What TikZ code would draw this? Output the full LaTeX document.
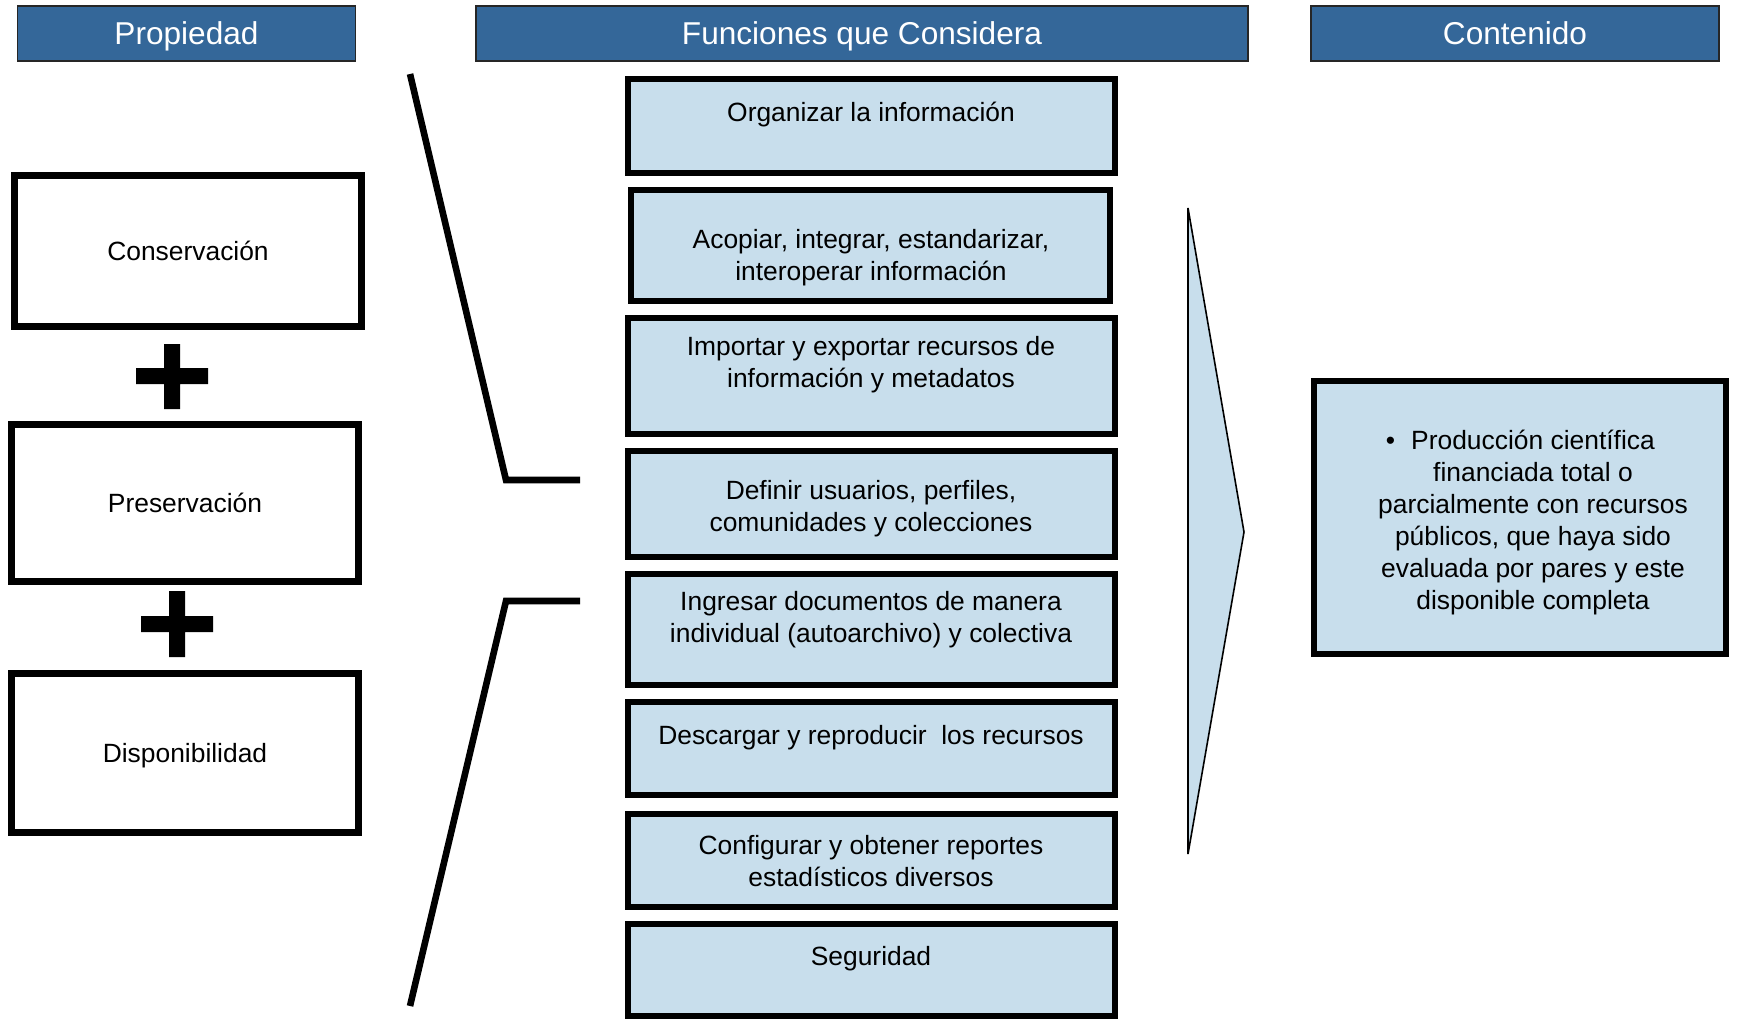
\documentclass[tikz,border=0pt]{standalone}
\usepackage{fontspec}
\setmainfont{Liberation Sans}
\usetikzlibrary{calc}

\definecolor{headblue}{RGB}{52,103,153}
\definecolor{cellblue}{RGB}{200,222,236}

\tikzset{
  header/.style={draw=black!85, line width=0.7pt, fill=headblue, text=white,
    font=\fontsize{15.8}{19}\selectfont, minimum height=27.5pt, inner sep=0pt,
    text height=11.4pt, text depth=0pt},
  propbox/.style={draw, line width=3.3pt, fill=white, minimum width=173.5pt,
    font=\fontsize{13.2}{16}\selectfont, inner sep=0pt,
    text height=9.4pt, text depth=0pt},
  funcbox/.style={draw, line width=3.3pt, fill=cellblue, minimum width=243.5pt, inner sep=0pt},
  functext/.style={align=center, font=\fontsize{13.2}{16}\selectfont, inner sep=0pt},
  contbox/.style={draw, line width=3.3pt, fill=cellblue, minimum width=206pt,
    minimum height=136.5pt, inner sep=0pt},
  bracket/.style={line width=3.3pt},
  chevron/.style={fill=cellblue, draw=black, line width=0.8pt, line join=miter},
}

\begin{document}
\begin{tikzpicture}[x=0.5pt, y=-0.5pt]
  \useasboundingbox (0,0) rectangle (1739,1023);

  \node[header, minimum width=169pt] (hprop) at (186.5,33.5) {Propiedad};
  \node[header, minimum width=386pt] (hfunc) at (862,33.5) {Funciones que Considera};
  \node[header, minimum width=204pt] (hcont) at (1515,33.5) {Contenido};

  \node[propbox, minimum height=75.5pt] (cons) at (188,251) {Conservación};
  \node[propbox, minimum height=78.5pt] (pres) at (185,503) {Preservación};
  \node[propbox, minimum height=79.5pt] (disp) at (185,753) {Disponibilidad};

  \fill (136,368) rectangle (208,384) (164,344) rectangle (180,409);
  \fill (141,616) rectangle (213,632) (169,591) rectangle (185,657);

  \draw[bracket] (410,74) -- (506,480) -- (580,480);
  \draw[bracket] (580,601) -- (506,601) -- (410,1006);

  \node[funcbox, minimum height=47pt] (f1) at (871.5,126) {};
  \node[funcbox, minimum width=239.5pt, minimum height=55.5pt] (f2) at (870.5,245.5) {};
  \node[funcbox, minimum height=58pt] (f3) at (871.5,376) {};
  \node[funcbox, minimum height=53pt] (f4) at (871.5,504) {};
  \node[funcbox, minimum height=55.5pt] (f5) at (871.5,629.5) {};
  \node[funcbox, minimum height=46.5pt] (f6) at (871.5,748.5) {};
  \node[funcbox, minimum height=46.5pt] (f7) at (871.5,860.5) {};
  \node[funcbox, minimum height=46pt] (f8) at (871.5,970) {};

  \node[functext] (t1) at (871,114.5) {Organizar la información};
  \node[functext] (t2) at (871,257.5) {Acopiar, integrar, estandarizar,\\interoperar información};
  \node[functext] (t3) at (871,364.5) {Importar y exportar recursos de\\información y metadatos};
  \node[functext] (t4) at (871,508.5) {Definir usuarios, perfiles,\\comunidades y colecciones};
  \node[functext] (t5) at (871,619.5) {Ingresar documentos de manera\\individual (autoarchivo) y colectiva};
  \node[functext] (t6) at (871,737.5) {Descargar y reproducir\ \ los recursos};
  \node[functext] (t7) at (871,861) {Configurar y obtener reportes\\estadísticos diversos};
  \node[functext] (t8) at (871,958.5) {Seguridad};

  \filldraw[chevron] (1188,208) -- (1244,532) -- (1188,854) -- cycle;

  \node[contbox] (cont) at (1520,517.5) {};
  \node[functext] (ctext) at (1533,522.5) {\llap{\textbullet\hspace{8pt}}Producción científica\\
    financiada total o\\parcialmente con recursos\\públicos, que haya sido\\
    evaluada por pares y este\\disponible completa};
\end{tikzpicture}
\end{document}
